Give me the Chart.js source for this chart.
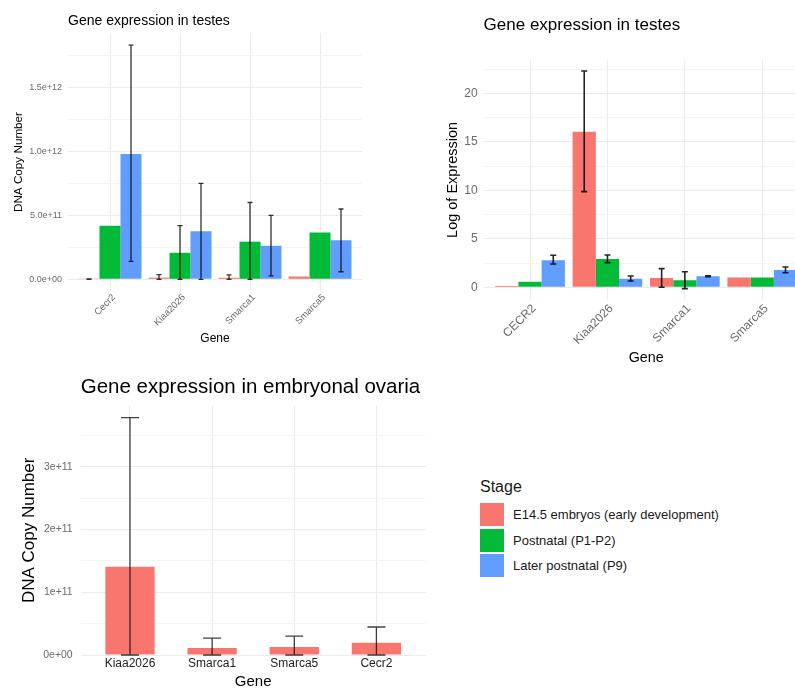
<!DOCTYPE html>
<html>
<head>
<meta charset="utf-8">
<script src="https://cdn.jsdelivr.net/npm/chart.js@4/dist/chart.umd.min.js"></script>
<style>
  html, body { margin: 0; padding: 0; background: #fff; width: 795px; height: 689px; overflow: hidden; position: relative; }
  canvas { position: absolute; display: block; }
  #legend { position: absolute; left: 0; top: 0; font-family: "Liberation Sans", Arial, Helvetica, sans-serif; color: #1a1a1a; }
  #legend .ttl { position: absolute; left: 480px; top: 477px; font-size: 16px; line-height: 20px; white-space: nowrap; }
  #legend .key { position: absolute; left: 480px; width: 24px; height: 23px; }
  #legend .lab { position: absolute; left: 513px; font-size: 13px; line-height: 23px; white-space: nowrap; }
</style>
</head>
<body>
<canvas id="testesCopy" width="375" height="352" style="left:0;top:0"></canvas>
<canvas id="testesLog" width="400" height="370" style="left:420px;top:0"></canvas>
<canvas id="ovariaCopy" width="440" height="325" style="left:0;top:370px"></canvas>
<div id="legend"></div>
<script>
// ---- Stages (legend) ----
const stageNames  = ["E14.5 embryos (early development)", "Postnatal (P1-P2)", "Later postnatal (P9)"];
const stageColors = ["#F8766D", "#00BA38", "#619CFF"];

// ---- Testes: DNA copy number ----
const testesGenes   = ["Cecr2", "Kiaa2026", "Smarca1", "Smarca5"];
const copyE145      = [0.002e12, 0.013e12, 0.012e12, 0.022e12];
const copyE145Low   = [0, 0, 0, null];
const copyE145High  = [0.003e12, 0.036e12, 0.035e12, null];
const copyP1P2      = [0.419e12, 0.207e12, 0.294e12, 0.366e12];
const copyP1P2Low   = [null, 0, 0, null];
const copyP1P2High  = [null, 0.419e12, 0.600e12, null];
const copyP9        = [0.979e12, 0.375e12, 0.262e12, 0.305e12];
const copyP9Low     = [0.140e12, 0, 0.026e12, 0.059e12];
const copyP9High    = [1.830e12, 0.750e12, 0.500e12, 0.549e12];
const copyTickValues = [0, 0.5e12, 1.0e12, 1.5e12];
const copyTickLabels = ["0.0e+00", "5.0e+11", "1.0e+12", "1.5e+12"];
const copyMinorTicks = [0.25e12, 0.75e12, 1.25e12, 1.75e12];

// ---- Testes: log of expression ----
const logGenes     = ["CECR2", "Kiaa2026", "Smarca1", "Smarca5"];
const logE145      = [0.13, 16.04, 0.96, 1.0];
const logE145Low   = [null, 9.86, 0, null];
const logE145High  = [null, 22.3, 1.92, null];
const logP1P2      = [0.58, 2.92, 0.72, 1.0];
const logP1P2Low   = [null, 2.54, -0.14, null];
const logP1P2High  = [null, 3.33, 1.60, null];
const logP9        = [2.78, 0.89, 1.13, 1.78];
const logP9Low     = [2.40, 0.65, 1.08, 1.50];
const logP9High    = [3.30, 1.17, 1.18, 2.09];
const logTickValues = [0, 5, 10, 15, 20];
const logTickLabels = ["0", "5", "10", "15", "20"];
const logMinorTicks = [2.5, 7.5, 12.5, 17.5, 22.5];

// ---- Embryonal ovaria: DNA copy number ----
const ovariaGenes    = ["Kiaa2026", "Smarca1", "Smarca5", "Cecr2"];
const ovariaE145     = [1.406e11, 0.111e11, 0.127e11, 0.196e11];
const ovariaE145Low  = [0, 0, 0, 0];
const ovariaE145High = [3.78e11, 0.27e11, 0.30e11, 0.446e11];
const ovariaTickValues = [0, 1e11, 2e11, 3e11];
const ovariaTickLabels = ["0e+00", "1e+11", "2e+11", "3e+11"];
const ovariaMinorTicks = [0.5e11, 1.5e11, 2.5e11, 3.5e11];

const FONT = '"Liberation Sans", Arial, Helvetica, sans-serif';
Chart.defaults.font.family = FONT;

// Panel title, left-aligned with the plotting area
const panelTitle = {
  id: 'panelTitle',
  afterDraw(chart, args, o) {
    const { ctx, chartArea } = chart;
    ctx.save();
    ctx.font = o.size + 'px ' + FONT;
    ctx.fillStyle = '#000';
    ctx.textAlign = 'left';
    ctx.textBaseline = 'middle';
    ctx.fillText(o.text, chartArea.left, o.y);
    ctx.restore();
  }
};

// Vertical error bars with caps, positioned by the bar elements and the y scale
const errorBars = {
  id: 'errorBars',
  afterDatasetsDraw(chart, args, o) {
    const { ctx } = chart;
    const y = chart.scales.y;
    ctx.save();
    ctx.strokeStyle = o.color;
    ctx.lineWidth = o.lineWidth;
    chart.data.datasets.forEach((ds, di) => {
      if (!ds.errLow) return;
      chart.getDatasetMeta(di).data.forEach((bar, i) => {
        const lo = ds.errLow[i], hi = ds.errHigh[i];
        if (lo == null || hi == null) return;
        const x = bar.x, yl = y.getPixelForValue(lo), yh = y.getPixelForValue(hi);
        const h = o.capWidth / 2;
        ctx.beginPath();
        ctx.moveTo(x, yl); ctx.lineTo(x, yh);
        ctx.moveTo(x - h, yl); ctx.lineTo(x + h, yl);
        ctx.moveTo(x - h, yh); ctx.lineTo(x + h, yh);
        ctx.stroke();
      });
    });
    ctx.restore();
  }
};

function points(values) {
  return values.map((v, i) => ({ x: i + 1, y: v }));
}

function barPanel(id, g) {
  const canvas = document.getElementById(id);
  const W = canvas.width, H = canvas.height;
  const majorSet = new Set(g.tickValues);
  return new Chart(canvas, {
    type: 'bar',
    data: { datasets: g.datasets },
    plugins: [panelTitle, errorBars],
    options: {
      responsive: false,
      animation: false,
      events: [],
      layout: { padding: { left: 0, top: g.plotTop, right: W - g.plotRight, bottom: 0 } },
      datasets: { bar: { categoryPercentage: g.groupWidth, barPercentage: 1.0, borderWidth: 0 } },
      plugins: {
        legend: { display: false },
        tooltip: { enabled: false },
        panelTitle: { text: g.title, size: g.titleSize, y: g.titleY },
        errorBars: { color: g.errColor, lineWidth: g.errWidth, capWidth: g.capWidth }
      },
      scales: {
        x: {
          type: 'linear',
          offset: false,
          min: 0.4,
          max: g.genes.length + 0.6,
          afterFit: (s) => { s.height = H - g.plotBottom; },
          afterBuildTicks: (s) => { s.ticks = g.genes.map((_, i) => ({ value: i + 1 })); },
          grid: { color: '#EBEBEB', lineWidth: 1, drawTicks: false, offset: false },
          border: { display: false },
          ticks: {
            autoSkip: false,
            minRotation: g.xRotation,
            maxRotation: g.xRotation,
            padding: g.xTickPad,
            labelOffset: g.xLabelShift,
            color: g.xTickColor,
            font: { size: g.xTickSize },
            callback: (v, i) => g.genes[i]
          },
          title: {
            display: true, text: 'Gene', color: '#000',
            font: { size: g.xTitleSize }, padding: { top: 0, bottom: g.xTitlePad }
          }
        },
        y: {
          min: g.yMin,
          max: g.yMax,
          afterFit: (s) => { s.width = g.plotLeft; },
          afterBuildTicks: (s) => {
            s.ticks = g.tickValues.concat(g.minorTicks).sort((a, b) => a - b).map(v => ({ value: v }));
          },
          grid: {
            drawTicks: false,
            lineWidth: 1,
            color: (c) => (c.tick && majorSet.has(c.tick.value)) ? '#EBEBEB' : '#F4F4F4'
          },
          border: { display: false },
          ticks: {
            padding: g.yTickPad,
            color: '#6b6b6b',
            font: { size: g.yTickSize },
            callback: (v) => {
              const k = g.tickValues.indexOf(v);
              return k >= 0 ? g.tickLabels[k] : '';
            }
          },
          title: {
            display: true, text: g.yTitle, color: '#000',
            font: { size: g.yTitleSize }, padding: { top: g.yTitlePad, bottom: 0 }
          }
        }
      }
    }
  });
}

function stageSet(k, values, low, high) {
  return {
    label: stageNames[k],
    data: points(values),
    backgroundColor: stageColors[k],
    errLow: low,
    errHigh: high
  };
}

barPanel('testesCopy', {
  title: 'Gene expression in testes', titleSize: 14, titleY: 21,
  genes: testesGenes,
  datasets: [
    stageSet(0, copyE145, copyE145Low, copyE145High),
    stageSet(1, copyP1P2, copyP1P2Low, copyP1P2High),
    stageSet(2, copyP9, copyP9Low, copyP9High)
  ],
  groupWidth: 0.9,
  plotLeft: 68, plotRight: 362, plotTop: 33, plotBottom: 291,
  yMin: -0.0914e12, yMax: 1.924e12,
  tickValues: copyTickValues, tickLabels: copyTickLabels, minorTicks: copyMinorTicks,
  yTitle: 'DNA Copy Number', yTitleSize: 11.7, yTitlePad: 11.3, yTickSize: 9, yTickPad: 6,
  xRotation: 45, xTickSize: 9.5, xTickPad: 1, xLabelShift: 4, xTickColor: '#6b6b6b', xTitleSize: 12, xTitlePad: 5.8,
  errColor: 'rgba(0,0,0,0.8)', errWidth: 1.3, capWidth: 5
});

barPanel('testesLog', {
  title: 'Gene expression in testes', titleSize: 17, titleY: 25,
  genes: logGenes,
  datasets: [
    stageSet(0, logE145, logE145Low, logE145High),
    stageSet(1, logP1P2, logP1P2Low, logP1P2High),
    stageSet(2, logP9, logP9Low, logP9High)
  ],
  groupWidth: 0.9,
  plotLeft: 63.6, plotRight: 388.7, plotTop: 60.3, plotBottom: 299.5,
  yMin: -1.26, yMax: 23.4,
  tickValues: logTickValues, tickLabels: logTickLabels, minorTicks: logMinorTicks,
  yTitle: 'Log of Expression', yTitleSize: 14.5, yTitlePad: 24.3, yTickSize: 12, yTickPad: 6,
  xRotation: 45, xTickSize: 12, xTickPad: 2, xLabelShift: 4, xTickColor: '#6b6b6b', xTitleSize: 14.3, xTitlePad: 3.1,
  errColor: 'rgba(0,0,0,0.85)', errWidth: 1.6, capWidth: 6
});

barPanel('ovariaCopy', {
  title: 'Gene expression in embryonal ovaria', titleSize: 20.5, titleY: 17,
  genes: ovariaGenes,
  datasets: [stageSet(0, ovariaE145, ovariaE145Low, ovariaE145High)],
  groupWidth: 0.6,
  plotLeft: 80.7, plotRight: 425.7, plotTop: 35.7, plotBottom: 285,
  yMin: 0, yMax: 3.97e11,
  tickValues: ovariaTickValues, tickLabels: ovariaTickLabels, minorTicks: ovariaMinorTicks,
  yTitle: 'DNA Copy Number', yTitleSize: 17, yTitlePad: 19, yTickSize: 10.5, yTickPad: 8,
  xRotation: 0, xTickSize: 12, xTickPad: 1, xLabelShift: 0, xTickColor: '#222', xTitleSize: 15, xTitlePad: 4.3,
  errColor: 'rgba(0,0,0,0.75)', errWidth: 1.3, capWidth: 18
});

// Shared legend for the stages
const legend = document.getElementById('legend');
const ttl = document.createElement('div');
ttl.className = 'ttl';
ttl.textContent = 'Stage';
legend.appendChild(ttl);
stageNames.forEach((name, k) => {
  const top = 503 + k * 25.5;
  const key = document.createElement('div');
  key.className = 'key';
  key.style.top = top + 'px';
  key.style.background = stageColors[k];
  legend.appendChild(key);
  const lab = document.createElement('div');
  lab.className = 'lab';
  lab.style.top = top + 'px';
  lab.textContent = name;
  legend.appendChild(lab);
});
</script>
</body>
</html>
